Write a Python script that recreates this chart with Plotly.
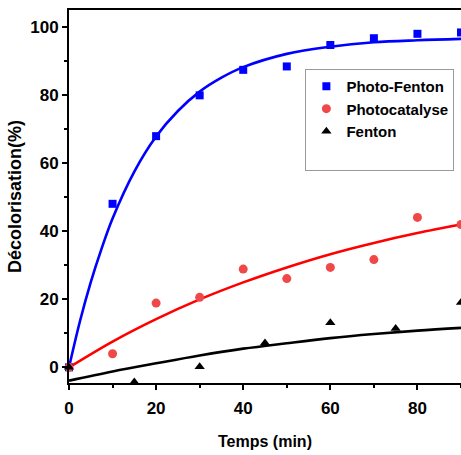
import plotly.graph_objects as go

# Measured data points
time_pf = [0, 10, 20, 30, 40, 50, 60, 70, 80, 90]
photo_fenton = [0, 48.1, 68.0, 80.0, 87.5, 88.5, 94.8, 96.8, 98.1, 98.5]
time_pc = [0, 10, 20, 30, 40, 50, 60, 70, 80, 90]
photocatalyse = [0, 4.0, 18.9, 20.6, 28.9, 26.1, 29.4, 31.7, 44.1, 42.0]
time_f = [0, 15, 30, 45, 60, 75, 90]
fenton = [0, -4.3, 0.2, 7.2, 13.1, 11.4, 19.1]

# Fitted curves
fit_x_pf = [0, 2.5, 5, 7.5, 10, 15, 20, 25, 30, 35, 40, 50, 60, 70, 80, 90]
fit_pf = [0, 13.5, 25.1, 35.0, 43.8, 57.6, 67.9, 75.4, 81.1, 85.2, 88.3, 92.2, 94.3, 95.6, 96.2, 96.6]
fit_x = [0, 10, 20, 30, 40, 50, 60, 70, 80, 90]
fit_pc = [0, 7.6, 14.2, 20.0, 25.0, 29.4, 33.3, 36.6, 39.5, 42.0]
fit_f = [-3.9, -1.2, 1.2, 3.5, 5.5, 7.1, 8.6, 9.8, 10.8, 11.6]

x_ticks = [0, 20, 40, 60, 80]
y_ticks = [0, 20, 40, 60, 80, 100]

FONT = "Liberation Sans, Arial, sans-serif"

series = [
    ("Photo-Fenton", time_pf, photo_fenton, dict(symbol="square", size=8, color="#0000ff")),
    ("Photocatalyse", time_pc, photocatalyse, dict(symbol="circle", size=9, color="#f04848")),
    ("Fenton", time_f, fenton, dict(symbol="triangle-up", size=9, color="#000000")),
]

fig = go.Figure()

# fit lines
fig.add_trace(go.Scatter(x=fit_x_pf, y=fit_pf, mode="lines", line=dict(color="#0000ff", width=2.6, shape="spline"),
                         showlegend=False, hoverinfo="skip"))
fig.add_trace(go.Scatter(x=fit_x, y=fit_pc, mode="lines", line=dict(color="#ff0000", width=2.6, shape="spline"),
                         showlegend=False, hoverinfo="skip"))
fig.add_trace(go.Scatter(x=fit_x, y=fit_f, mode="lines", line=dict(color="#000000", width=2.6, shape="spline"),
                         showlegend=False, hoverinfo="skip"))

# markers
for name, xs, ys, mk in series:
    fig.add_trace(go.Scatter(x=xs, y=ys, mode="markers", name=name, marker=mk, cliponaxis=False))

# blank legend row (empty space at the bottom of the legend box)
fig.add_trace(go.Scatter(x=[None], y=[None], mode="markers", name=" ",
                         marker=dict(size=1, color="rgba(0,0,0,0)")))

fig.update_layout(
    width=461, height=455,
    margin=dict(l=69, r=0, t=10, b=72, autoexpand=False),
    paper_bgcolor="white", plot_bgcolor="white",
    font=dict(family=FONT, color="black", size=16, weight="bold"),
    legend=dict(x=0.603, y=0.842, xanchor="left", yanchor="top",
                bordercolor="#9a9a9a", borderwidth=1, bgcolor="white",
                font=dict(family=FONT, size=15, color="black", weight="bold"),
                itemwidth=30, tracegroupgap=0),
    xaxis=dict(range=[0, 90.0], tickvals=x_ticks, ticktext=[str(v) for v in x_ticks],
               showgrid=False, zeroline=False, showline=True, linecolor="black", linewidth=2,
               mirror=True, ticks="outside", ticklen=5, tickwidth=2, tickcolor="black",
               minor=dict(dtick=10, tick0=0, ticks="outside", ticklen=3, tickwidth=2, tickcolor="black"),
               tickfont=dict(family=FONT, size=17, color="black", weight="bold"),
               ticklabelstandoff=4,
               title=dict(text="Temps (min)", font=dict(family=FONT, size=16, color="black", weight="bold"),
                          standoff=18)),
    yaxis=dict(range=[-4.6, 105.1], tickvals=y_ticks, ticktext=[str(v) for v in y_ticks],
               showgrid=False, zeroline=False, showline=True, linecolor="black", linewidth=2,
               mirror=False, ticks="outside", ticklen=5, tickwidth=2, tickcolor="black",
               minor=dict(dtick=10, tick0=0, ticks="outside", ticklen=3, tickwidth=2, tickcolor="black"),
               tickfont=dict(family=FONT, size=17, color="black", weight="bold"),
               title=dict(text="Décolorisation(%)", font=dict(family=FONT, size=18, color="black", weight="bold"),
                          standoff=4)),
)

fig.write_html("out.html")
